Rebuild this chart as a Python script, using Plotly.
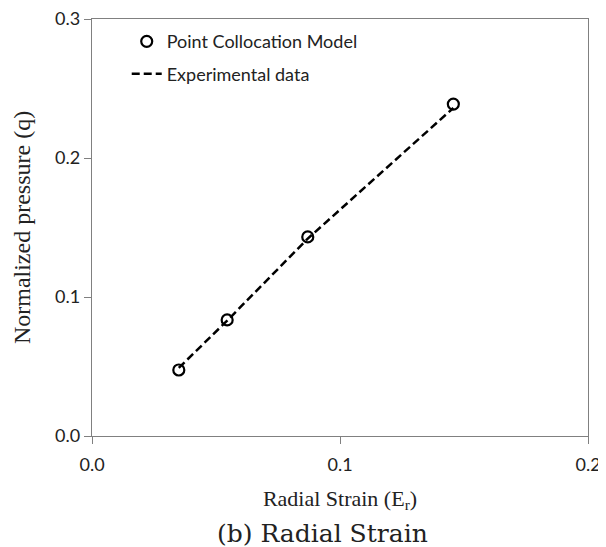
import plotly.graph_objects as go

# Data
strain_model = [0.035, 0.0545, 0.087, 0.1457]
pressure_model = [0.0475, 0.0835, 0.1432, 0.2388]

strain_exp = [0.035, 0.0545, 0.087, 0.1457]
pressure_exp = [0.049, 0.083, 0.142, 0.236]

x_ticks = [0.0, 0.1, 0.2]
x_tick_labels = ["0.0", "0.1", "0.2"]
y_ticks = [0.0, 0.1, 0.2, 0.3]
y_tick_labels = ["0.0", "0.1", "0.2", "0.3"]

sans = "Lato, Open Sans, sans-serif"
serif = "Liberation Serif, Times New Roman, serif"
tick_font = dict(family=sans, size=18, color="#222222")

fig = go.Figure()

fig.add_trace(go.Scatter(
    x=strain_exp, y=pressure_exp, mode="lines", name="Experimental data",
    line=dict(color="black", width=2.5, dash="8px,4px"),
    legendrank=2, legendgroup="b",
))
fig.add_trace(go.Scatter(
    x=strain_model, y=pressure_model, mode="markers", name="Point Collocation Model",
    marker=dict(symbol="circle-open", size=11, color="black", line=dict(width=2.2, color="black")),
    legendrank=1, legendgroup="a",
))

axis_common = dict(
    showgrid=False, zeroline=False, showline=True, linecolor="#808080", linewidth=1.3,
    mirror=True, ticks="outside", ticklen=7, tickcolor="#808080", tickwidth=1.3,
    tickfont=tick_font, automargin=False, ticklabeloverflow="allow",
)

# The page body adds an 8px margin, so the figure is sized/margined to compensate.
fig.update_layout(
    width=598, height=539,
    margin=dict(l=84, r=18, t=11, b=111),
    paper_bgcolor="white", plot_bgcolor="white",
    xaxis=dict(range=[0, 0.2], tickvals=x_ticks, ticktext=x_tick_labels, ticklabelstandoff=5,
               title=dict(text="Radial Strain (E<sub>r</sub>)", font=dict(family=serif, size=22, color="#222222"),
                          standoff=16),
               **axis_common),
    yaxis=dict(range=[0, 0.3], tickvals=y_ticks, ticktext=y_tick_labels,
               title=dict(text="Normalized pressure (q)", font=dict(family=serif, size=24, color="#222222"),
                          standoff=17),
               **axis_common),
    legend=dict(x=0.07, y=0.99, xanchor="left", yanchor="top",
                font=dict(family=sans, size=18, color="#222222"),
                bgcolor="rgba(0,0,0,0)", tracegroupgap=6),
    showlegend=True,
)

fig.add_annotation(
    text="(b) Radial Strain", xref="paper", yref="paper", x=0.465, y=0, yshift=-97,
    xanchor="center", yanchor="middle", showarrow=False,
    font=dict(family="DejaVu Serif, Liberation Serif, serif", size=25, color="#222222"),
)

fig.write_html("out.html")
